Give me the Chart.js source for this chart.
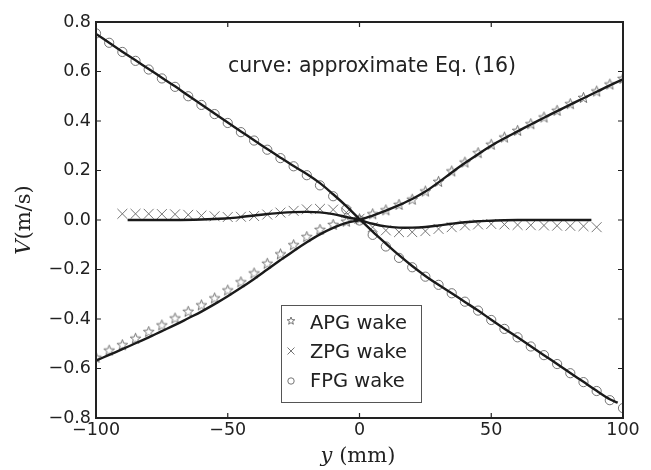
<!DOCTYPE html>
<html>
<head>
<meta charset="utf-8">
<script src="https://cdn.jsdelivr.net/npm/chart.js@4.4.0/dist/chart.umd.min.js"></script>
<style>
  html, body { margin: 0; padding: 0; background: #fff; }
</style>
</head>
<body>
<canvas id="chart" width="651" height="470"></canvas>
<script>
// measured points, y in mm, V in m/s
const yMM = [-100, -95, -90, -85, -80, -75, -70, -65, -60, -55, -50, -45, -40, -35, -30, -25, -20, -15, -10, -5,
  0, 5, 10, 15, 20, 25, 30, 35, 40, 45, 50, 55, 60, 65, 70, 75, 80, 85, 90, 95, 100];
const apgV = [-0.555, -0.526, -0.504, -0.478, -0.451, -0.424, -0.396, -0.369, -0.343, -0.315, -0.283, -0.25, -0.214,
  -0.175, -0.137, -0.1, -0.067, -0.038, -0.018, -0.005, 0.005, 0.025, 0.041, 0.063, 0.084, 0.117, 0.156, 0.198, 0.234,
  0.272, 0.306, 0.335, 0.362, 0.389, 0.416, 0.443, 0.47, 0.495, 0.521, 0.549, 0.572];
const fpgV = [0.754, 0.716, 0.679, 0.643, 0.608, 0.572, 0.538, 0.5, 0.465, 0.428, 0.392, 0.355, 0.321, 0.284, 0.25,
  0.217, 0.181, 0.14, 0.096, 0.043, -0.002, -0.06, -0.107, -0.153, -0.191, -0.229, -0.262, -0.296, -0.33, -0.366,
  -0.404, -0.44, -0.474, -0.511, -0.546, -0.582, -0.619, -0.655, -0.691, -0.728, -0.76];
const zpgY = [-90, -85, -80, -75, -70, -65, -60, -55, -50, -45, -40, -35, -30, -25, -20, -15, -10, -5, 0,
  5, 10, 15, 20, 25, 30, 35, 40, 45, 50, 55, 60, 65, 70, 75, 80, 85, 90];
const zpgV = [0.025, 0.025, 0.025, 0.024, 0.023, 0.021, 0.018, 0.015, 0.012, 0.013, 0.016, 0.022, 0.03, 0.037, 0.043,
  0.045, 0.042, 0.03, 0.005, -0.029, -0.042, -0.049, -0.049, -0.045, -0.036, -0.029, -0.022, -0.018, -0.016, -0.018,
  -0.02, -0.021, -0.022, -0.023, -0.024, -0.025, -0.029];

// approximate Eq. (16) curves
const apgCurve = [-0.568, -0.545, -0.522, -0.498, -0.474, -0.449, -0.424, -0.397, -0.37, -0.34, -0.308, -0.274, -0.238,
  -0.2, -0.162, -0.125, -0.09, -0.058, -0.032, -0.012, 0, 0.018, 0.038, 0.06, 0.085, 0.115, 0.152, 0.192, 0.23, 0.266,
  0.3, 0.33, 0.358, 0.386, 0.413, 0.44, 0.466, 0.492, 0.518, 0.544, 0.568];
const fpgCurveY = [-100, -95, -90, -85, -80, -75, -70, -65, -60, -55, -50, -45, -40, -35, -30, -25, -20, -15, -10, -5,
  0, 5, 10, 15, 20, 25, 30, 35, 40, 45, 50, 55, 60, 65, 70, 75, 80, 85, 90, 95, 98];
const fpgCurve = [0.752, 0.716, 0.68, 0.645, 0.61, 0.575, 0.54, 0.503, 0.467, 0.43, 0.394, 0.358, 0.322, 0.287, 0.252,
  0.218, 0.186, 0.149, 0.104, 0.056, 0.004, -0.047, -0.095, -0.142, -0.186, -0.226, -0.262, -0.296, -0.331, -0.366,
  -0.403, -0.439, -0.474, -0.51, -0.546, -0.582, -0.618, -0.654, -0.69, -0.724, -0.738];
const zpgCurveY = [-88, -80, -70, -60, -55, -50, -45, -40, -35, -30, -25, -20, -15, -10, -5, 0,
  5, 10, 15, 20, 25, 30, 35, 40, 45, 50, 55, 60, 70, 80, 88];
const zpgCurve = [0, 0, 0, 0.002, 0.004, 0.007, 0.012, 0.018, 0.024, 0.029, 0.032, 0.033, 0.031, 0.024, 0.012, 0,
  -0.015, -0.026, -0.031, -0.031, -0.028, -0.022, -0.015, -0.009, -0.005, -0.003, -0.001, 0, 0, 0, 0];

const xTicks = [-100, -50, 0, 50, 100];
const seriesNames = ['APG wake', 'ZPG wake', 'FPG wake'];

const INK = '#222';
const MARK = '#666';

const pts = (xs, ys) => xs.map((v, i) => ({ x: v, y: ys[i] }));
const minus = v => String(v).replace('-', '\u2212');

function starPath(ctx, cx, cy, r) {
  const inner = r * 0.42;
  ctx.beginPath();
  for (let i = 0; i < 10; i++) {
    const rr = i % 2 ? inner : r;
    const a = -Math.PI / 2 + i * Math.PI / 5;
    const px = cx + rr * Math.cos(a), py = cy + rr * Math.sin(a);
    i ? ctx.lineTo(px, py) : ctx.moveTo(px, py);
  }
  ctx.closePath();
}

// star marker image for the APG points
const starImg = document.createElement('canvas');
starImg.width = 13; starImg.height = 13;
(() => {
  const c = starImg.getContext('2d');
  c.strokeStyle = MARK; c.lineWidth = 0.9;
  starPath(c, 6.5, 7, 5.6);
  c.stroke();
})();

const curveStyle = { showLine: true, borderColor: '#1a1a1a', borderWidth: 2.4, pointRadius: 0,
  tension: 0.35, clip: 0 };

const extras = {
  id: 'extras',
  afterDraw(chart) {
    const { ctx, chartArea: a, scales: { x, y } } = chart;
    ctx.save();
    // inward ticks on all sides
    ctx.strokeStyle = INK; ctx.lineWidth = 1.2;
    ctx.beginPath();
    x.ticks.forEach(t => {
      const p = x.getPixelForValue(t.value);
      ctx.moveTo(p, a.bottom); ctx.lineTo(p, a.bottom - 5);
      ctx.moveTo(p, a.top); ctx.lineTo(p, a.top + 5);
    });
    y.ticks.forEach(t => {
      const p = y.getPixelForValue(t.value);
      ctx.moveTo(a.left, p); ctx.lineTo(a.left + 5, p);
      ctx.moveTo(a.right, p); ctx.lineTo(a.right - 5, p);
    });
    ctx.stroke();
    ctx.lineWidth = 2;
    ctx.strokeRect(a.left, a.top, a.right - a.left, a.bottom - a.top);

    // annotation
    ctx.fillStyle = INK;
    ctx.font = '20.5px "DejaVu Sans"';
    ctx.textAlign = 'center'; ctx.textBaseline = 'alphabetic';
    ctx.fillText('curve: approximate Eq. (16)', 372, 72);

    // axis titles
    const mixed = (parts, cx, cy) => {
      let w = 0;
      parts.forEach(p => { ctx.font = p.f; w += ctx.measureText(p.t).width; });
      let sx = cx - w / 2;
      ctx.textAlign = 'left'; ctx.textBaseline = 'middle';
      parts.forEach(p => { ctx.font = p.f; ctx.fillText(p.t, sx, cy); sx += ctx.measureText(p.t).width; });
    };
    mixed([{ t: 'y', f: 'italic 21px "DejaVu Serif"' }, { t: ' (mm)', f: '21px "DejaVu Serif"' }], 358, 457);
    ctx.save();
    ctx.translate(25, 220); ctx.rotate(-Math.PI / 2);
    mixed([{ t: 'V', f: 'italic 21px "DejaVu Serif"' }, { t: '(m/s)', f: '21px "DejaVu Serif"' }], 0, 0);
    ctx.restore();

    // legend
    const lx = 281, ly = 305, lw = 140, lh = 97;
    ctx.fillStyle = '#fff';
    ctx.fillRect(lx, ly, lw, lh);
    ctx.strokeStyle = '#555'; ctx.lineWidth = 1;
    ctx.strokeRect(lx + 0.5, ly + 0.5, lw, lh);
    seriesNames.forEach((name, i) => {
      const cy = 322 + i * 29, mx = 291;
      ctx.strokeStyle = MARK; ctx.lineWidth = 0.9;
      if (i === 0) { starPath(ctx, mx, cy - 1, 4); ctx.stroke(); }
      if (i === 1) {
        ctx.beginPath();
        ctx.moveTo(mx - 3.5, cy - 3.5); ctx.lineTo(mx + 3.5, cy + 3.5);
        ctx.moveTo(mx + 3.5, cy - 3.5); ctx.lineTo(mx - 3.5, cy + 3.5);
        ctx.stroke();
      }
      if (i === 2) { ctx.beginPath(); ctx.arc(mx, cy + 1, 3.2, 0, Math.PI * 2); ctx.stroke(); }
      ctx.fillStyle = INK;
      ctx.font = '19.5px "DejaVu Sans"';
      ctx.textAlign = 'left'; ctx.textBaseline = 'alphabetic';
      ctx.fillText(name, 310, cy + 7);
    });
    ctx.restore();
  }
};

new Chart(document.getElementById('chart'), {
  type: 'scatter',
  data: {
    datasets: [
      { label: 'APG curve', data: pts(yMM, apgCurve), ...curveStyle },
      { label: 'ZPG curve', data: pts(zpgCurveY, zpgCurve), ...curveStyle },
      { label: 'FPG curve', data: pts(fpgCurveY, fpgCurve), ...curveStyle },
      { label: seriesNames[0], data: pts(yMM, apgV), pointStyle: starImg, pointRadius: 6, clip: 0 },
      { label: seriesNames[1], data: pts(zpgY, zpgV), pointStyle: 'crossRot', pointRadius: 7,
        borderColor: MARK, borderWidth: 0.9, clip: 0 },
      { label: seriesNames[2], data: pts(yMM, fpgV), pointStyle: 'circle', pointRadius: 4.6,
        borderColor: MARK, backgroundColor: 'rgba(0,0,0,0)', borderWidth: 0.9, clip: 0 },
    ],
  },
  options: {
    responsive: false,
    animation: false,
    devicePixelRatio: 1,
    layout: { padding: { top: 22, right: 28, left: 0, bottom: 0 } },
    plugins: { legend: { display: false }, tooltip: { enabled: false } },
    scales: {
      x: {
        type: 'linear', min: -100, max: 100,
        afterFit: s => { s.height = 52; },
        afterBuildTicks: s => { s.ticks = xTicks.map(v => ({ value: v })); },
        grid: { display: false, drawTicks: false },
        border: { display: false },
        ticks: { color: INK, padding: 2, font: { family: 'DejaVu Sans', size: 17.5 }, callback: v => minus(v) },
      },
      y: {
        type: 'linear', min: -0.8, max: 0.8,
        afterFit: s => { s.width = 96; },
        grid: { display: false, drawTicks: false },
        border: { display: false },
        ticks: { color: INK, padding: 5, stepSize: 0.2, font: { family: 'DejaVu Sans', size: 17.5 },
          callback: v => minus(Number(v).toFixed(1)) },
      },
    },
  },
  plugins: [extras],
});
</script>
</body>
</html>
